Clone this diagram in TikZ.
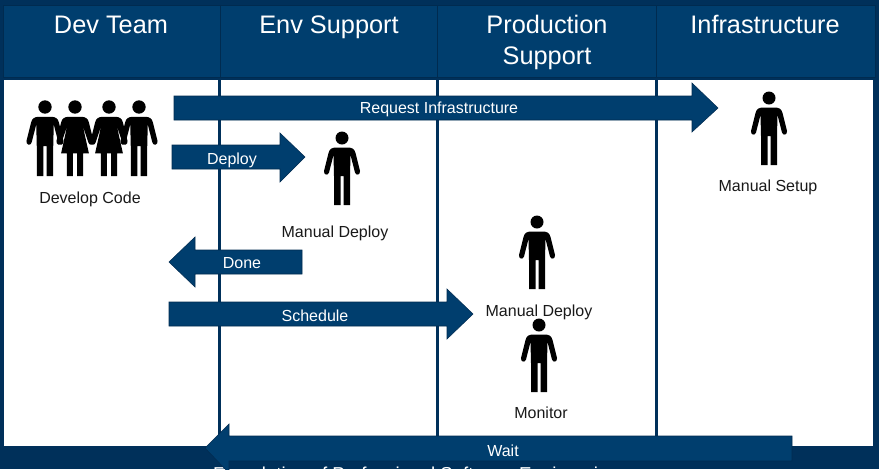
\documentclass[tikz,border=0pt]{standalone}
\usepackage{fontspec}
\setmainfont{Liberation Sans}
\definecolor{bgBlue}{HTML}{00305A}
\definecolor{headBlue}{HTML}{003E6E}
\definecolor{lineBlue}{HTML}{002B50}
\tikzset{
  headCell/.style={draw=lineBlue,line width=0.6pt,fill=headBlue},
  headText/.style={text=white,font=\fontsize{19}{23.2}\selectfont,align=center},
  laneBox/.style={fill=white},
  blockArrow/.style={fill=headBlue,draw=lineBlue,line width=0.4pt},
  arrowText/.style={text=white,font=\fontsize{12}{14}\selectfont},
  actorText/.style={text=black!90,font=\fontsize{12}{14}\selectfont},
  man/.pic={
    \fill (0,0) circle[radius=6.5];
    \fill (-6,9.5)--(6,9.5) .. controls (10,9.5) and (12.5,11) .. (13.5,15)--(18,33)
      .. controls (18.5,37) and (14,38) .. (13,34.5)--(8.5,17)--(8,38)--(8,67)--(1.5,67)--(1.5,38)
      --(-1.5,38)--(-1.5,67)--(-8,67)--(-8,38)--(-8.5,17)--(-13,34.5)
      .. controls (-14,38) and (-18.5,37) .. (-18,33)--(-13.5,15)
      .. controls (-12.5,11) and (-10,9.5) .. (-6,9.5)--cycle;
  },
  woman/.pic={
    \fill (0,0) circle[radius=6.5];
    \fill (-6,9.5)--(6,9.5) .. controls (10,9.5) and (12.5,11) .. (13.5,15)--(18,33)
      .. controls (18.5,37) and (14,38) .. (13,34.5)--(7.5,18)--(13.5,45)--(8,45)--(8,67)--(2,67)--(2,45)
      --(-2,45)--(-2,67)--(-8,67)--(-8,45)--(-13.5,45)--(-7.5,18)--(-13,34.5)
      .. controls (-14,38) and (-18.5,37) .. (-18,33)--(-13.5,15)
      .. controls (-12.5,11) and (-10,9.5) .. (-6,9.5)--cycle;
  }
}
\begin{document}
\begin{tikzpicture}[x=0.75pt,y=-0.75pt]
\useasboundingbox (0,0) rectangle (879,469);
\begin{scope}
\clip (0,0) rectangle (879,469);
\fill[bgBlue] (0,0) rectangle (879,469);

% header row
\filldraw[headCell] (3,5) rectangle (220,77);
\filldraw[headCell] (220,5) rectangle (437,77);
\filldraw[headCell] (437,5) rectangle (656,77);
\filldraw[headCell] (656,5) rectangle (875,77);
\node[headText,anchor=base] (devHead) at (111,33.5) {Dev Team};
\node[headText,anchor=base] (envHead) at (329,33.5) {Env Support};
\node[headText] (prodHead) at (547,42) {Production\\Support};
\node[headText,anchor=base] (infraHead) at (765,33.5) {Infrastructure};

% lanes
\fill[laneBox] (4,80) rectangle (217.5,446);
\fill[laneBox] (220.5,80) rectangle (435.5,446);
\fill[laneBox] (439,80) rectangle (654.5,446);
\fill[laneBox] (658,80) rectangle (873,446);

% block arrows
\filldraw[blockArrow] (174,96)--(692,96)--(692,83)--(718,108)--(692,132)--(692,120)--(174,120)--cycle;
\filldraw[blockArrow] (172,145)--(280,145)--(280,133)--(305,157)--(280,182)--(280,169)--(172,169)--cycle;
\filldraw[blockArrow] (302,250)--(195,250)--(195,237)--(169,262)--(195,287)--(195,274)--(302,274)--cycle;
\filldraw[blockArrow] (169,302)--(447,302)--(447,289)--(473,314)--(447,339)--(447,326)--(169,326)--cycle;

% cut off at the lower edge
\node[text=white,font=\fontsize{14}{17}\selectfont,anchor=base] (footText) at (416,480) {Foundation of Professional Software Engineering};
\filldraw[blockArrow] (792,436)--(229,436)--(229,424)--(205,448)--(229,473)--(229,461)--(792,461)--cycle;

\node[arrowText] (requestText) at (439,109) {Request Infrastructure};
\node[arrowText] (deployText) at (232,160) {Deploy};
\node[arrowText] (doneText) at (242,263) {Done};
\node[arrowText] (scheduleText) at (315,316) {Schedule};
\node[arrowText] (waitText) at (503,451) {Wait};

% actors
\pic[scale=1.03] at (45,107) {man};
\pic[scale=1.03] at (139,107) {man};
\pic[scale=1.03] at (75,107) {woman};
\pic[scale=1.03] at (109,107) {woman};
\pic at (342,138) {man};
\pic at (769,98) {man};
\pic at (537,222) {man};
\pic at (539,325) {man};

\node[actorText] (codeText) at (90,199) {Develop Code};
\node[actorText] (deployOne) at (335,233) {Manual Deploy};
\node[actorText] (setupText) at (768,187) {Manual Setup};
\node[actorText] (deployTwo) at (539,312) {Manual Deploy};
\node[actorText] (monitorText) at (541,413) {Monitor};
\end{scope}
\end{tikzpicture}
\end{document}
